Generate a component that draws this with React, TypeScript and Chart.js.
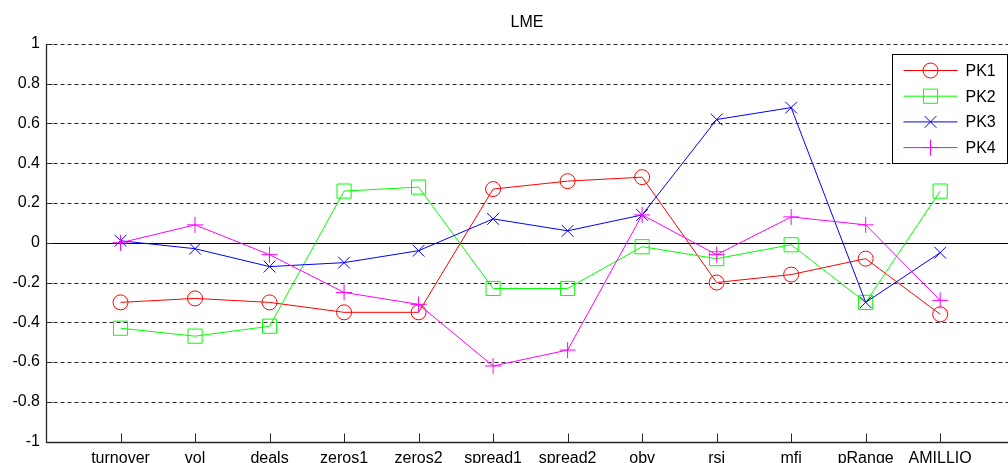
import { useEffect, useRef } from 'react';
import { Chart, registerables } from 'chart.js';
import { drawPoint } from 'chart.js/helpers';

Chart.register(...registerables);

// Loadings of the four principal components on each liquidity measure
const categories = ['turnover', 'vol', 'deals', 'zeros1', 'zeros2', 'spread1', 'spread2', 'obv', 'rsi', 'mfi', 'pRange', 'AMILLIQ'];
const pk1 = [-0.30, -0.28, -0.30, -0.35, -0.35, 0.27, 0.31, 0.33, -0.20, -0.16, -0.08, -0.36];
const pk2 = [-0.43, -0.47, -0.42, 0.26, 0.28, -0.23, -0.23, -0.02, -0.08, -0.01, -0.30, 0.26];
const pk3 = [0.01, -0.03, -0.12, -0.10, -0.04, 0.12, 0.06, 0.14, 0.62, 0.68, -0.30, -0.05];
const pk4 = [0.00, 0.09, -0.06, -0.25, -0.31, -0.62, -0.54, 0.14, -0.06, 0.13, 0.09, -0.29];
const seriesNames = ['PK1', 'PK2', 'PK3', 'PK4'];
const yTicks = [-1, -0.8, -0.6, -0.4, -0.2, 0, 0.2, 0.4, 0.6, 0.8, 1];
const chartTitle = 'LME';

const seriesValues = [pk1, pk2, pk3, pk4];
const seriesColors = ['#ff0000', '#00ff00', '#0000ff', '#ff00ff'];
const markerStyles = ['circle', 'rect', 'crossRot', 'cross'];
const markerRadii = [7.5, 10, 8.3, 8];

const FONT = 'Arial, "Liberation Sans", Helvetica, sans-serif';
const AXIS_COLOR = '#262626';

// Axes box, dashed grid, zero line and inward tick marks
const axesPlugin = {
  id: 'axesFrame',
  beforeDatasetsDraw(chart: any) {
    const { ctx, chartArea, scales } = chart;
    const { left, right, top, bottom } = chartArea;
    const x = scales.x;
    const y = scales.y;
    const lx = Math.round(left) + 0.5;
    const by = Math.round(bottom) + 0.5;
    ctx.save();
    ctx.strokeStyle = AXIS_COLOR;
    ctx.lineWidth = 1;
    ctx.setLineDash([4, 3]);
    for (const v of yTicks) {
      if (v === 0 || v === -1) continue;
      const py = Math.round(y.getPixelForValue(v)) + 0.5;
      ctx.beginPath();
      ctx.moveTo(lx, py);
      ctx.lineTo(right, py);
      ctx.stroke();
    }
    ctx.setLineDash([]);
    // y = 0 reference line
    const pz = Math.round(y.getPixelForValue(0)) + 0.5;
    ctx.strokeStyle = '#000';
    ctx.beginPath();
    ctx.moveTo(lx, pz);
    ctx.lineTo(right, pz);
    ctx.stroke();
    // axis lines
    ctx.strokeStyle = AXIS_COLOR;
    ctx.lineWidth = 1.3;
    ctx.beginPath();
    ctx.moveTo(lx, Math.round(top));
    ctx.lineTo(lx, by);
    ctx.lineTo(right, by);
    ctx.stroke();
    ctx.lineWidth = 1;
    // inward ticks
    for (let i = 0; i < categories.length; i++) {
      const px = Math.round(x.getPixelForValue(i + 1)) + 0.5;
      ctx.beginPath();
      ctx.moveTo(px, by - 9);
      ctx.lineTo(px, by);
      ctx.stroke();
    }
    for (const v of yTicks) {
      const py = Math.round(y.getPixelForValue(v)) + 0.5;
      ctx.beginPath();
      ctx.moveTo(lx, py);
      ctx.lineTo(lx + 6, py);
      ctx.stroke();
    }
    ctx.restore();
  },
};

// Title and boxed legend drawn on top of the plot
const overlayPlugin = {
  id: 'overlay',
  afterDraw(chart: any) {
    const { ctx, chartArea } = chart;
    ctx.save();
    ctx.fillStyle = '#000';
    ctx.font = `16px ${FONT}`;
    ctx.textAlign = 'center';
    ctx.textBaseline = 'middle';
    ctx.fillText(chartTitle, 527, 23);

    const boxW = 115;
    const boxH = 109;
    const bx = Math.round(chartArea.right - 1 - boxW) + 0.5;
    const byy = Math.round(chartArea.top + 10) + 0.5;
    ctx.fillStyle = '#fff';
    ctx.fillRect(bx, byy, boxW, boxH);
    ctx.strokeStyle = '#000';
    ctx.lineWidth = 1;
    ctx.strokeRect(bx, byy, boxW, boxH);

    ctx.textAlign = 'left';
    ctx.font = `16px ${FONT}`;
    for (let i = 0; i < seriesNames.length; i++) {
      const ry = byy + 16 + i * 25.7;
      ctx.strokeStyle = seriesColors[i];
      ctx.lineWidth = 1;
      ctx.beginPath();
      ctx.moveTo(bx + 11, ry);
      ctx.lineTo(bx + 65, ry);
      ctx.stroke();
      ctx.fillStyle = 'rgba(0,0,0,0)';
      drawPoint(ctx, {
        pointStyle: markerStyles[i],
        radius: markerRadii[i],
        rotation: 0,
        borderWidth: 1,
      } as any, bx + 38, ry);
      ctx.fillStyle = '#000';
      ctx.fillText(seriesNames[i], bx + 73, ry + 1);
    }
    ctx.restore();
  },
};

export default function App() {
  const canvasRef = useRef<HTMLCanvasElement | null>(null);

  useEffect(() => {
    if (!canvasRef.current) return;
    const chart = new Chart(canvasRef.current, {
      type: 'line',
      data: {
        datasets: seriesNames.map((name, i) => ({
          label: name,
          data: seriesValues[i].map((v, j) => ({ x: j + 1, y: v })),
          borderColor: seriesColors[i],
          borderWidth: 1,
          backgroundColor: 'transparent',
          fill: false,
          tension: 0,
          pointStyle: markerStyles[i] as any,
          pointRadius: markerRadii[i],
          pointHoverRadius: markerRadii[i],
          pointBorderColor: seriesColors[i],
          pointBackgroundColor: 'transparent',
          pointBorderWidth: 1,
          order: seriesNames.length - 1 - i,
        })),
      },
      options: {
        animation: false,
        responsive: true,
        maintainAspectRatio: false,
        layout: { autoPadding: false, padding: { top: 44, left: 0, right: 0, bottom: 0 } },
        plugins: {
          legend: { display: false },
          title: { display: false },
          tooltip: { enabled: false },
        },
        scales: {
          x: {
            type: 'linear',
            min: 0,
            max: 12.91,
            grid: { display: false, drawTicks: false },
            border: { display: false },
            ticks: {
              autoSkip: false,
              maxRotation: 0,
              padding: 7,
              color: '#000',
              font: { family: FONT, size: 16 },
              callback: (v: any) => categories[Math.round(Number(v)) - 1] ?? '',
            },
            afterBuildTicks: (scale: any) => {
              scale.ticks = categories.map((_, i) => ({ value: i + 1 }));
            },
            afterFit: (scale: any) => {
              scale.height = 21.5;
            },
          },
          y: {
            type: 'linear',
            min: -1,
            max: 1,
            grid: { display: false, drawTicks: false },
            border: { display: false },
            ticks: {
              padding: 6,
              color: '#000',
              font: { family: FONT, size: 16 },
              callback: (v: any) => String(Math.round(Number(v) * 10) / 10),
            },
            afterBuildTicks: (scale: any) => {
              scale.ticks = yTicks.map((v) => ({ value: v }));
            },
            afterFit: (scale: any) => {
              scale.width = 46;
            },
          },
        },
      },
      plugins: [axesPlugin, overlayPlugin],
    });
    return () => chart.destroy();
  }, []);

  return (
    <div style={{ position: 'absolute', left: 0, top: 0, width: 1008, height: 463, background: '#fff' }}>
      <canvas ref={canvasRef} />
    </div>
  );
}
